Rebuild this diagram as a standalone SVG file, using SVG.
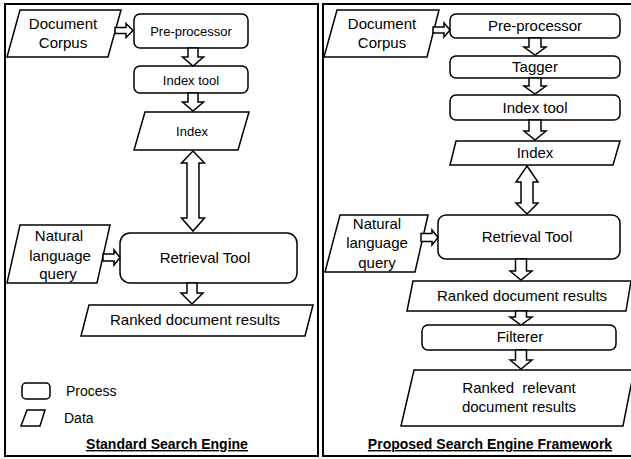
<svg xmlns="http://www.w3.org/2000/svg" width="631" height="459" viewBox="0 0 631 459">
<style>
.panel{fill:#fff;stroke:#000;stroke-width:2}
.n{fill:#fff;stroke:#000;stroke-width:1.5}
.ba{fill:#fff;stroke:#000;stroke-width:1.5;stroke-linejoin:miter}
text{font-family:"Liberation Sans",Arial,sans-serif;fill:#000;text-anchor:middle}
.s13{font-size:13px}
.s14{font-size:14px}
.s15{font-size:15px}
.title{font-size:14px;font-weight:bold;text-decoration:underline}
.lg{text-anchor:start;font-size:14px}
</style>
<rect width="631" height="459" fill="#fff"/>
<rect class="panel" x="5" y="4" width="313" height="452"/>
<rect class="panel" x="323" y="4" width="322" height="452"/>

<g id="L-doc"><polygon class="n" points="20,10 121,10 108,57 7,57"/><text class="s15" x="63" y="29">Document</text><text class="s15" x="63" y="48">Corpus</text></g>
<g id="L-pre"><rect class="n" x="134" y="14" width="114" height="34" rx="6"/><text class="s13" x="191" y="35.5">Pre-processor</text></g>
<g id="L-idxtool"><rect class="n" x="134" y="66" width="114" height="27" rx="6"/><text class="s13" x="191" y="84.5">Index tool</text></g>
<g id="L-idx"><polygon class="n" points="145,112 249,112 238,150 134,150"/><text class="s13" x="192" y="136">Index</text></g>
<g id="L-ret"><rect class="n" x="120" y="233" width="177" height="50" rx="10"/><text class="s15" x="205" y="263">Retrieval Tool</text></g>
<g id="L-nlq"><polygon class="n" points="20,225 110,225 97,283 7,283"/><text class="s15" x="59" y="241">Natural</text><text class="s15" x="60" y="261">language</text><text class="s15" x="58" y="279">query</text></g>
<g id="L-rank"><polygon class="n" points="89,305 313,305 305,336 81,336"/><text class="s15" x="195" y="325">Ranked document results</text></g>
<g id="legend"><rect class="n" x="22" y="383" width="28" height="16" rx="4"/><text class="lg" x="66" y="396">Process</text><polygon class="n" points="27,410 45,410 40,426 21,426"/><text class="lg" x="64" y="423">Data</text></g>
<g id="L-title"><text class="title" x="167" y="449">Standard Search Engine</text></g>

<g id="R-doc"><polygon class="n" points="337,10 439,10 427,57 324,57"/><text class="s15" x="382" y="29">Document</text><text class="s15" x="382" y="48">Corpus</text></g>
<g id="R-pre"><rect class="n" x="450" y="14" width="170" height="24" rx="6"/><text class="s15" x="535" y="31">Pre-processor</text></g>
<g id="R-tag"><rect class="n" x="450" y="56" width="170" height="22" rx="6"/><text class="s15" x="535" y="72">Tagger</text></g>
<g id="R-idxtool"><rect class="n" x="450" y="95" width="170" height="25" rx="6"/><text class="s15" x="535" y="113">Index tool</text></g>
<g id="R-idx"><polygon class="n" points="456,141 620,141 613,165 450,165"/><text class="s15" x="535" y="158">Index</text></g>
<g id="R-ret"><rect class="n" x="438" y="215" width="182" height="44" rx="8"/><text class="s15" x="527" y="242">Retrieval Tool</text></g>
<g id="R-nlq"><polygon class="n" points="340,215 428,215 415,272 325,272"/><text class="s15" x="377" y="229">Natural</text><text class="s15" x="377" y="248">language</text><text class="s15" x="377" y="268">query</text></g>
<g id="R-rank"><polygon class="n" points="413,281 631,281 626,311 407,311"/><text class="s15" x="522" y="301">Ranked document results</text></g>
<g id="R-filt"><rect class="n" x="422" y="325" width="194" height="25" rx="6"/><text class="s15" x="520" y="342">Filterer</text></g>
<g id="R-rr"><polygon class="n" points="414,370 634,370 623,426 401,426"/><text class="s15" x="519" y="393" xml:space="preserve" style="white-space:pre">Ranked  relevant</text><text class="s15" x="519" y="412">document results</text></g>
<g id="R-title"><text class="title" x="490" y="449">Proposed Search Engine Framework</text></g>

<g id="connectors">
<path class="ba" d="M115,27.5 H126 V23.5 L133,30.5 L126,37.5 V33.5 H115 Z"/>
<path class="ba" d="M188,48 H198 V57 H203.5 L193,66 L182.5,57 H188 Z"/>
<path class="ba" d="M188,93 H198 V102 H203.5 L193,111 L182.5,102 H188 Z"/>
<path class="ba" d="M193,151 L204.5,163 H199 V218 H204.5 L193,231 L181.5,218 H187 V163 H181.5 Z"/>
<path class="ba" d="M103,254 H114 V250 L120,257.5 L114,265 V261 H103 Z"/>
<path class="ba" d="M187,283 H197 V293 H203 L192,304 L181,293 H187 Z"/>
<path class="ba" d="M433,27 H444 V23 L450,30 L444,37 V33 H433 Z"/>
<path class="ba" d="M529,38 H541 V47 H546 L535,55 L524,47 H529 Z"/>
<path class="ba" d="M529,78 H541 V86 H546 L535,94 L524,86 H529 Z"/>
<path class="ba" d="M529,120 H541 V131 H546 L535,140 L524,131 H529 Z"/>
<path class="ba" d="M527,166 L538,182 H533 V203 H538 L527,214 L516,203 H521 V182 H516 Z"/>
<path class="ba" d="M421,233.5 H432 V230 L438,237.5 L432,245 V241.5 H421 Z"/>
<path class="ba" d="M515.5,259 H526.5 V271 H532 L521,280 L510,271 H515.5 Z"/>
<path class="ba" d="M515.5,311 H526.5 V317 H532 L521,325 L510,317 H515.5 Z"/>
<path class="ba" d="M515.5,350 H526.5 V360 H532 L521,369 L510,360 H515.5 Z"/>
</g>
</svg>
